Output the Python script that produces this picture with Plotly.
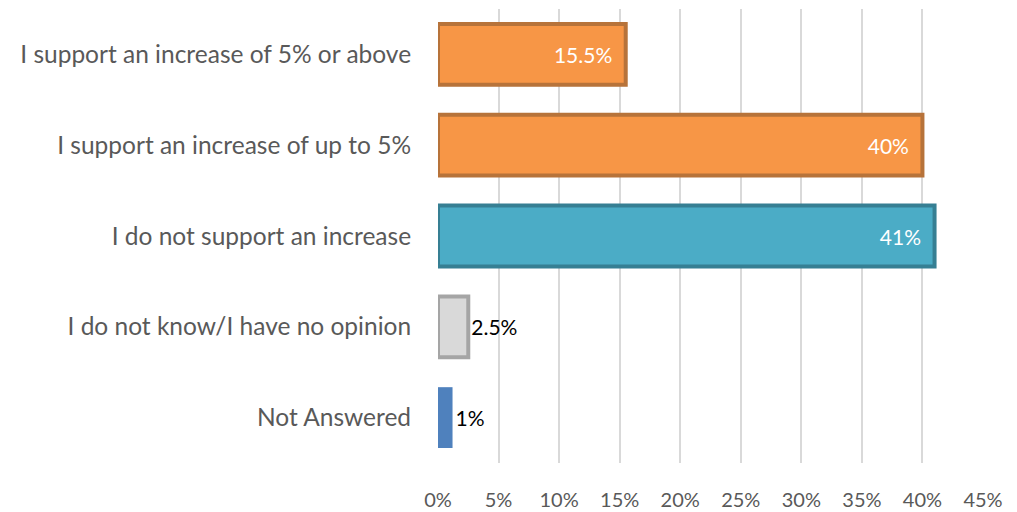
import plotly.graph_objects as go

categories = [
    'I support an increase of 5% or above',
    'I support an increase of up to 5%',
    'I do not support an increase',
    'I do not know/I have no opinion',
    'Not Answered',
]
values = [15.5, 40, 41, 2.5, 1.2]
labels = ['15.5%', '40%', '41%', '2.5%', '1%']

fill_colors = ['#F79646', '#F79646', '#4BACC6', '#D9D9D9', '#4F81BD']
line_colors = ['#B7733A', '#B7733A', '#367F93', '#A5A5A5', '#4F81BD']
line_widths = [4, 4, 4, 4, 0]
text_pos = ['inside', 'inside', 'inside', 'outside', 'outside']
text_colors = ['white', 'white', 'white', 'black', 'black']

fig = go.Figure()

fig.add_trace(go.Bar(
    x=values, y=categories, orientation='h',
    marker=dict(color=fill_colors, line=dict(color=line_colors, width=line_widths)),
    text=[t + '\u2002' if p == 'inside' else t for t, p in zip(labels, text_pos)],
    textposition=text_pos,
    insidetextanchor='end',
    textfont=dict(color=text_colors, size=21, family='Lato'),
    cliponaxis=False,
    hoverinfo='skip',
))

# page body adds an 8px offset, so margins are trimmed to compensate
fig.update_layout(
    width=1009, height=504,
    margin=dict(l=430, r=34, t=1, b=42),
    plot_bgcolor='white', paper_bgcolor='white',
    font=dict(family='Lato', color='#595959'),
    bargap=0.33,
    showlegend=False,
)
fig.update_xaxes(
    range=[0, 45], dtick=5, ticksuffix='%',
    showgrid=True, gridcolor='#D9D9D9', gridwidth=2,
    zeroline=False, showline=False,
    tickfont=dict(size=20, color='#595959'),
    ticks='outside', ticklen=19, tickcolor='rgba(0,0,0,0)',
)
fig.update_yaxes(
    autorange='reversed',
    tickfont=dict(size=24.5, color='#595959'),
    ticks='outside', ticklen=21, tickcolor='rgba(0,0,0,0)',
    showline=False,
)

fig.write_html('out.html')
